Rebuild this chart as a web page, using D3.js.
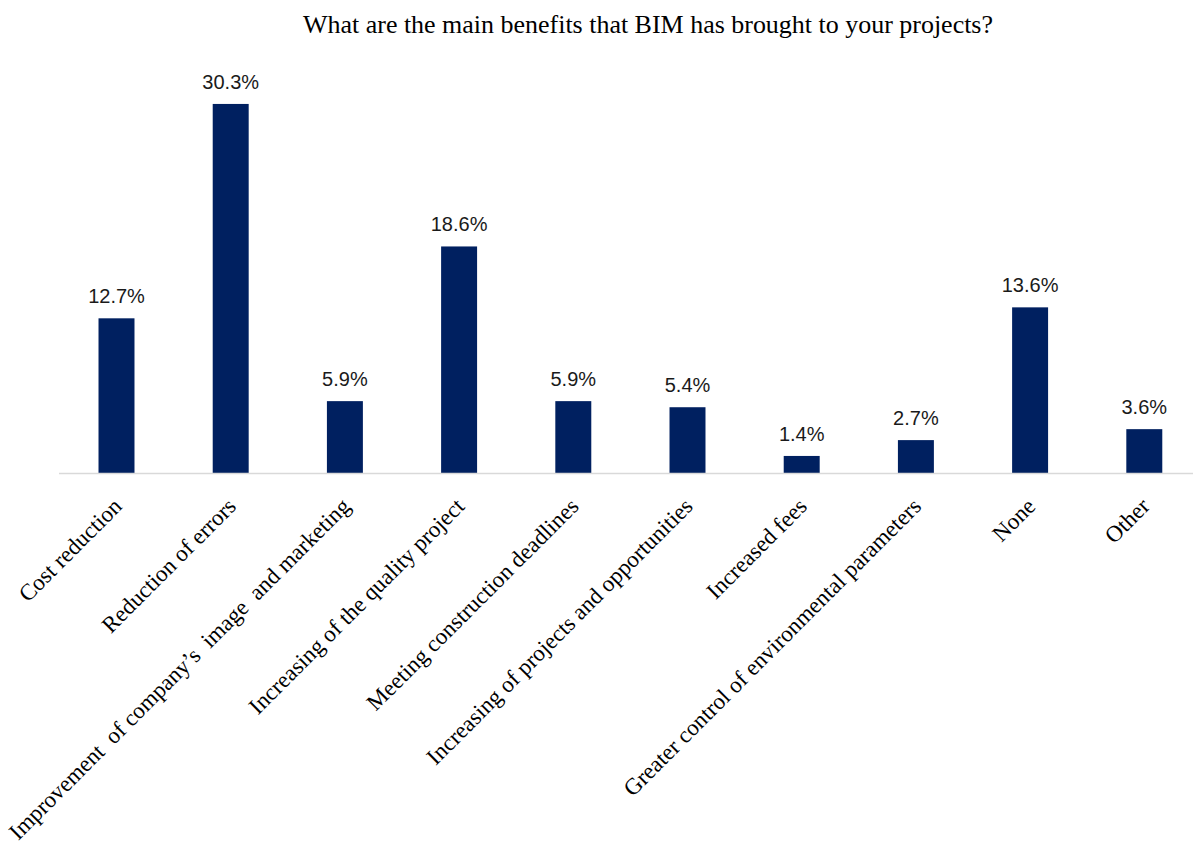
<!DOCTYPE html>
<html>
<head>
<meta charset="utf-8">
<script src="https://cdn.jsdelivr.net/npm/d3@7"></script>
<style>
  html, body { margin: 0; padding: 0; background: #ffffff; }
  svg { display: block; }
</style>
</head>
<body>
<svg id="chart" width="1194" height="854"></svg>
<script>
// Survey answers: benefits of BIM on projects (share of respondents, %)
const categories = [
  "Cost reduction",
  "Reduction of errors",
  "Improvement  of company\u2019s  image  and marketing",
  "Increasing of the quality project",
  "Meeting construction deadlines",
  "Increasing of projects and opportunities",
  "Increased fees",
  "Greater control of environmental parameters",
  "None",
  "Other"
];
const values = [12.7, 30.3, 5.9, 18.6, 5.9, 5.4, 1.4, 2.7, 13.6, 3.6];
const valueLabels = ["12.7%", "30.3%", "5.9%", "18.6%", "5.9%", "5.4%", "1.4%", "2.7%", "13.6%", "3.6%"];
const title = "What are the main benefits that BIM has brought to your projects?";

const svg = d3.select("#chart");
const W = 1194;
const baseY = 473;

const x = d3.scaleBand()
  .domain(categories)
  .range([59.4, 1201.4])
  .paddingInner(0.685)
  .paddingOuter(0.3425);

const y = d3.scaleLinear()
  .domain([0, 35])
  .range([baseY, baseY - 12.18 * 35]);

// Title
svg.append("text")
  .attr("x", 303)
  .attr("y", 33)
  .attr("textLength", 690)
  .attr("lengthAdjust", "spacingAndGlyphs")
  .style("font-family", "'Liberation Serif', 'Times New Roman', serif")
  .style("font-size", "26px")
  .style("fill", "#000")
  .text(title);

// Bars
svg.append("g").selectAll("rect")
  .data(values)
  .join("rect")
  .attr("x", (d, i) => x(categories[i]))
  .attr("width", x.bandwidth())
  .attr("y", d => y(d))
  .attr("height", d => y(0) - y(d))
  .attr("fill", "#002060");

// Category axis baseline
svg.append("line")
  .attr("x1", 59)
  .attr("x2", W - 1)
  .attr("y1", baseY + 0.5)
  .attr("y2", baseY + 0.5)
  .attr("stroke", "#d9d9d9")
  .attr("stroke-width", 1.5);

// Value labels
svg.append("g").selectAll("text")
  .data(values)
  .join("text")
  .attr("x", (d, i) => x(categories[i]) + x.bandwidth() / 2)
  .attr("y", d => y(d) - 15)
  .attr("text-anchor", "middle")
  .style("font-family", "'Liberation Sans', Arial, sans-serif")
  .style("font-size", "20px")
  .style("fill", "#1a1a1a")
  .text((d, i) => valueLabels[i]);

// Rotated category labels
svg.append("g").selectAll("text")
  .data(categories)
  .join("text")
  .attr("transform", d => `translate(${x(d) + x.bandwidth() / 2 + 1},${baseY + 29}) rotate(-45)`)
  .attr("text-anchor", "end")
  .attr("dy", "0.35em")
  .attr("xml:space", "preserve")
  .style("white-space", "pre")
  .style("font-family", "'Liberation Serif', 'Times New Roman', serif")
  .style("font-size", "23px")
  .style("fill", "#000")
  .text(d => d);
</script>
</body>
</html>
